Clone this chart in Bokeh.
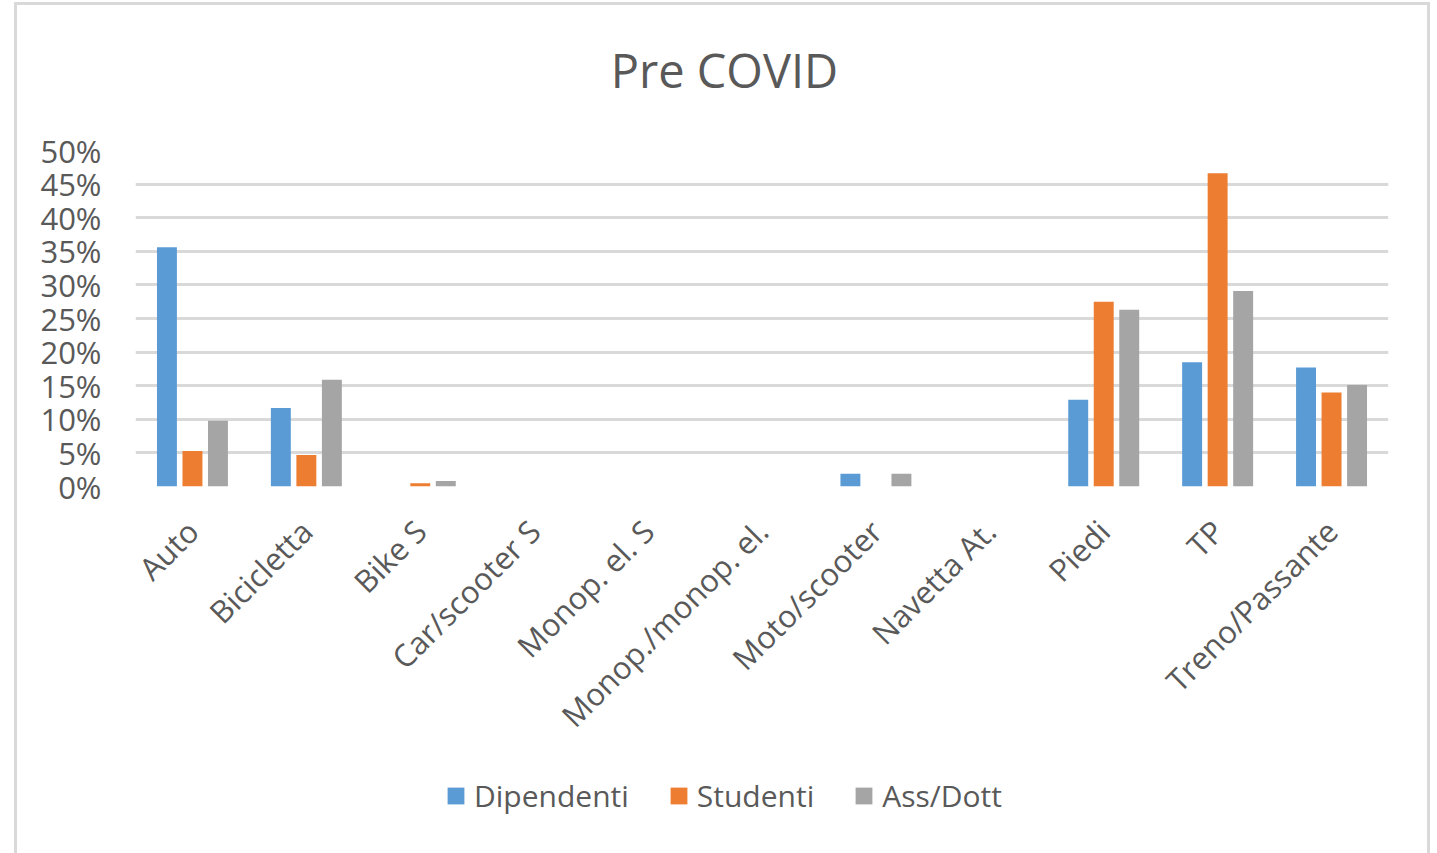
import math
from bokeh.plotting import figure
from bokeh.layouts import column, row
from bokeh.models import (ColumnDataSource, FactorRange, Range1d, NumeralTickFormatter, Legend,
                          LegendItem, FixedTicker, Spacer, Label)
from bokeh.transform import dodge
from bokeh.embed import file_html
from bokeh.resources import INLINE

categories = ["Auto", "Bicicletta", "Bike S", "Car/scooter S", "Monop. el. S",
              "Monop./monop. el.", "Moto/scooter", "Navetta At.", "Piedi", "TP",
              "Treno/Passante"]
dipendenti = [0.356, 0.117, 0.0, 0.0, 0.0, 0.0, 0.019, 0.0, 0.129, 0.185, 0.177]
studenti   = [0.053, 0.047, 0.005, 0.0, 0.0, 0.0, 0.0, 0.0, 0.275, 0.466, 0.140]
ass_dott   = [0.098, 0.159, 0.008, 0.0, 0.0, 0.0, 0.019, 0.0, 0.263, 0.291, 0.151]
series_names = ["Dipendenti", "Studenti", "Ass/Dott"]
colors = ["#5b9bd5", "#ed7d31", "#a5a5a5"]
y_ticks = [0, 0.05, 0.10, 0.15, 0.20, 0.25, 0.30, 0.35, 0.40, 0.45, 0.50]
chart_title = "Pre COVID"

src = ColumnDataSource(dict(cat=categories, d=dipendenti, s=studenti, a=ass_dott))

FONT = "Open Sans"
TXT = "#595959"
BORDER = "3px solid #d9d9d9"


def blank(fig):
    fig.axis.visible = False
    fig.grid.visible = False
    fig.outline_line_color = None
    fig.border_fill_color = "white"
    fig.background_fill_color = "white"


# title strip
tf = figure(width=1416, height=110, x_range=Range1d(0, 1), y_range=Range1d(0, 110),
            output_backend="svg", toolbar_location=None,
            min_border_left=0, min_border_right=0, min_border_top=0, min_border_bottom=0)
blank(tf)
tf.styles = {"border-left": BORDER, "border-right": BORDER, "border-top": BORDER}
tf.add_layout(Label(x=0.470, y=46, text=chart_title, text_font=FONT, text_font_size="47px",
                    text_color=TXT, text_align="center", text_baseline="middle"))

# main chart
p = figure(width=1416, height=648, x_range=FactorRange(*categories, range_padding=0, factor_padding=0),
           y_range=Range1d(0, 0.5), output_backend="svg", toolbar_location=None,
           min_border_left=118, min_border_right=45, min_border_top=38, min_border_bottom=274)
p.outline_line_color = None
p.background_fill_color = "white"
p.border_fill_color = "white"
p.styles = {"border-left": BORDER, "border-right": BORDER}

for col, off, c in zip(["d", "s", "a"], [-0.224, 0.0, 0.224], colors):
    p.vbar(x=dodge("cat", off, range=p.x_range), top=col, width=0.175, source=src,
           fill_color=c, line_color=None)

p.yaxis.ticker = FixedTicker(ticks=y_ticks)
p.yaxis.formatter = NumeralTickFormatter(format="0%")
p.ygrid.ticker = FixedTicker(ticks=y_ticks)
p.ygrid.grid_line_color = "#d9d9d9"
p.ygrid.grid_line_width = 3
p.xgrid.grid_line_color = None

for ax in (p.xaxis, p.yaxis):
    ax.axis_line_color = None
    ax.major_tick_line_color = None
    ax.minor_tick_line_color = None
    ax.major_label_text_font = FONT
    ax.major_label_text_font_size = "31px"
    ax.major_label_text_color = TXT
p.yaxis.major_label_standoff = 28
p.xaxis.major_label_orientation = math.pi / 4
p.xaxis.major_label_standoff = 33

# legend strip below the chart
lg = figure(width=1416, height=93, x_range=Range1d(0, 1), y_range=Range1d(0, 1),
            output_backend="svg", toolbar_location=None,
            min_border_left=0, min_border_right=0, min_border_top=0, min_border_bottom=0)
blank(lg)
lg.styles = {"border-left": BORDER, "border-right": BORDER}
dummy = [lg.vbar(x=[-10], top=[0], width=0.1, fill_color=c, line_color=None) for c in colors]
legend = Legend(items=[LegendItem(label=n, renderers=[r], index=0) for n, r in zip(series_names, dummy)],
                orientation="horizontal", location=(310, 37),
                label_text_font=FONT, label_text_font_size="30px", label_text_color=TXT,
                glyph_width=21, glyph_height=21, spacing=39, label_standoff=8,
                padding=0, margin=0, border_line_color=None, background_fill_alpha=0)
lg.add_layout(legend, "center")

layout = row(Spacer(width=14), column(Spacer(height=2), tf, p, lg))

open("out.html", "w").write(file_html(layout, INLINE))
